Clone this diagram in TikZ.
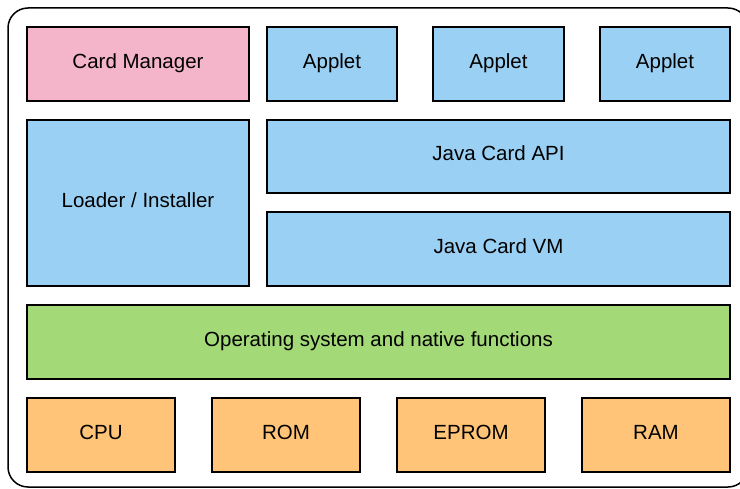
\documentclass[tikz,border=0pt]{standalone}
\usepackage{fontspec}
\setmainfont{Liberation Sans}
\definecolor{jcpink}{HTML}{F4B4C9}
\definecolor{jcblue}{HTML}{9AD0F3}
\definecolor{jcgreen}{HTML}{A3D977}
\definecolor{jcorange}{HTML}{FFC477}
\tikzset{
  layer/.style={rectangle, draw=black, line width=1.5pt, inner sep=0pt, minimum height=74pt, text height=15pt, text depth=6pt, font=\fontsize{20.5}{24}\selectfont},
  bluebox/.style={layer, fill=jcblue},
  hwbox/.style={layer, fill=jcorange, minimum width=148pt}
}
\begin{document}
\begin{tikzpicture}[x=1pt, y=-1pt]
  \useasboundingbox (0,0) rectangle (740,489);
  % outer card frame
  \draw[line width=1.5pt, rounded corners=20pt] (8,8) rectangle (748,487);

  % top row
  \node[layer, fill=jcpink, minimum width=222pt] (cardmgr) at (138,64) {Card Manager};
  \node[bluebox, minimum width=130pt] (applet1) at (332,64) {Applet};
  \node[bluebox, minimum width=131pt] (applet2) at (498.5,64) {Applet};
  \node[bluebox, minimum width=130pt] (applet3) at (665,64) {Applet};

  % runtime
  \node[bluebox, minimum width=222pt, minimum height=166pt] (loader) at (138,203) {Loader / Installer};
  \node[bluebox, minimum width=463pt, minimum height=73pt] (api) at (498.5,156.5) {Java Card API};
  \node[bluebox, minimum width=463pt] (vm) at (498.5,249) {Java Card VM};

  % os
  \node[layer, fill=jcgreen, minimum width=703pt] (os) at (378.5,342) {Operating system and native functions};

  % hardware
  \node[hwbox] (cpu) at (101,435) {CPU};
  \node[hwbox] (rom) at (286,435) {ROM};
  \node[hwbox] (eprom) at (471,435) {EPROM};
  \node[hwbox] (ram) at (656,435) {RAM};
\end{tikzpicture}
\end{document}
